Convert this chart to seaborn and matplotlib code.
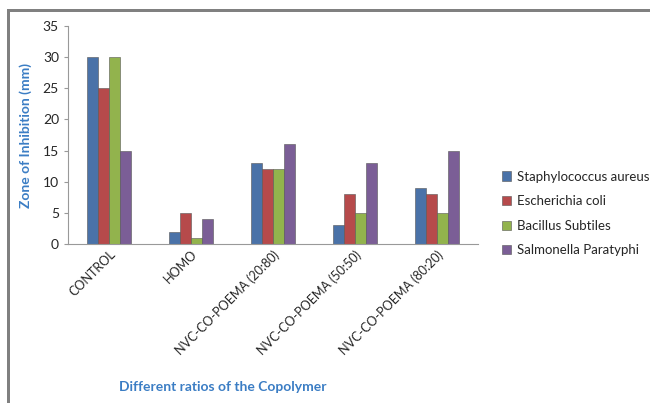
import pandas as pd
import seaborn as sns
import matplotlib.pyplot as plt
from matplotlib.patches import Rectangle

# data
groups = ['CONTROL', 'HOMO', 'NVC-CO-POEMA (20:80)', 'NVC-CO-POEMA (50:50)', 'NVC-CO-POEMA (80:20)']
staph = [30, 2, 13, 3, 9]
ecoli = [25, 5, 12, 8, 8]
bacillus = [30, 1, 12, 5, 5]
salmonella = [15, 4, 16, 13, 15]
series = ['Staphylococcus aureus', 'Escherichia coli', 'Bacillus Subtiles', 'Salmonella Paratyphi']
colors = ['#3a6fb8', '#c8383a', '#98c43c', '#7b559f']

df = pd.DataFrame({'group': groups * 4,
                   'value': staph + ecoli + bacillus + salmonella,
                   'series': [s for s in series for _ in groups]})

sns.set_style('white')
plt.rcParams['font.family'] = ['Lato', 'DejaVu Sans']

fig = plt.figure(figsize=(6.5, 4.03), dpi=100)
ax = fig.add_axes([0.1046, 0.3945, 0.6308, 0.541])

sns.barplot(data=df, x='group', y='value', hue='series', palette=colors,
            width=0.54, edgecolor='#555555', linewidth=0.4, ax=ax)

ax.set_ylim(0, 35)
ax.set_yticks(range(0, 36, 5))
ax.tick_params(axis='y', labelsize=10, length=3, color='#999999', left=True)
ax.tick_params(axis='x', labelsize=9, length=0, pad=3)
plt.setp(ax.get_xticklabels(), rotation=45, ha='right', rotation_mode='anchor')
for s in ['top', 'right']:
    ax.spines[s].set_visible(False)
for s in ['left', 'bottom']:
    ax.spines[s].set_color('#999999')
    ax.spines[s].set_linewidth(0.8)

ax.set_ylabel('Zone of Inhibition (mm)', color='#3b7dc4', fontsize=10, fontweight='bold', labelpad=8)
ax.set_xlabel('')
fig.text(0.342, 0.04, 'Different ratios of the Copolymer', color='#3b7dc4',
         fontsize=10, fontweight='bold', ha='center', va='center')

leg = ax.legend(loc='center left', bbox_to_anchor=(1.03, 0.14), frameon=False,
                fontsize=9.5, handlelength=0.7, handleheight=0.7, handletextpad=0.4,
                labelspacing=0.95)

# grey frame around chart area (top and left edges visible), as thin filled bars
frame = '#808080'
fig.add_artist(Rectangle((0.011, 0.0), 0.0046, 0.978, transform=fig.transFigure,
                         facecolor=frame, edgecolor='none', zorder=10))
fig.add_artist(Rectangle((0.011, 0.970), 0.989, 0.0075, transform=fig.transFigure,
                         facecolor=frame, edgecolor='none', zorder=10))

fig.savefig('out.png', dpi=100)
